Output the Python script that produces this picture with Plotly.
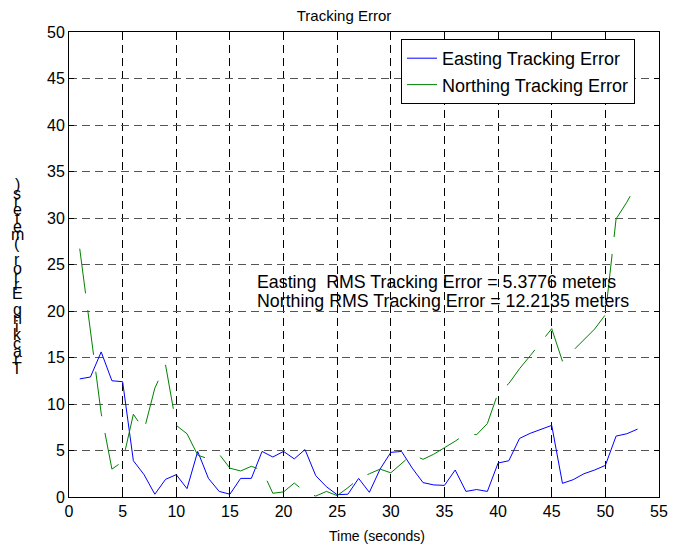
import plotly.graph_objects as go

# ---- data ----
time_s = list(range(1, 54))
easting_err = [12.7, 12.9, 15.6, 12.5, 12.4, 3.9, 2.4, 0.3, 1.9, 2.4,
               0.9, 4.9, 2.0, 0.6, 0.3, 2.0, 2.0, 4.9, 4.3, 4.9,
               4.1, 5.1, 2.3, 1.1, 0.25, 0.3, 2.0, 0.5, 3.0, 4.8,
               4.9, 3.1, 1.55, 1.3, 1.25, 2.9, 0.6, 0.8, 0.6, 3.65,
               3.9, 6.3, 6.85, 7.3, 7.7, 1.47, 1.86, 2.5, 2.9, 3.4,
               6.55, 6.8, 7.3]
northing_err = [26.7, 18.0, 9.0, 3.0, 3.8, 8.9, 7.2, 11.7, 14.2, 7.7,
                6.8, 4.5, 4.1, 4.6, 3.1, 2.8, 3.3, 2.9, 0.4, 0.55,
                1.5, 0.55, 0.1, 0.6, 0.15, 1.0, 1.95, 2.5, 3.0, 2.6,
                3.6, 4.6, 4.05, 4.6, 5.3, 6.0, 6.8, 6.7, 7.9, 11.2,
                12.2, 13.8, 15.2, 16.6, 18.1, 14.6, 15.75, 16.9, 18.06, 19.6,
                29.9, 31.7, 33.8]
x_ticks = list(range(0, 56, 5))
y_ticks = list(range(0, 51, 5))
title_text = "Tracking Error"
x_label = "Time (seconds)"
y_label = "Tracking Error (meters)"
rms_lines = ["Easting\u00a0 RMS Tracking Error = 5.3776 meters",
             "Northing RMS Tracking Error = 12.2135 meters"]

FONT = "Liberation Sans, Arial, sans-serif"

# plot area in page pixels (page has 8px body margin)
PL, PR, PT, PB = 69, 659, 32, 497
PW, PH = PR - PL, PB - PT

fig = go.Figure()
fig.add_trace(go.Scatter(x=time_s, y=easting_err, mode="lines",
                         name="Easting Tracking Error",
                         line=dict(color="#0000FF", width=1)))
fig.add_trace(go.Scatter(x=time_s, y=northing_err, mode="lines",
                         name="Northing Tracking Error",
                         line=dict(color="#008000", width=1, dash="45px,17px")))

axis_common = dict(showline=True, linecolor="black", linewidth=1, mirror="ticks",
                   ticks="inside", ticklen=5, tickcolor="black", zeroline=False,
                   showgrid=True, gridwidth=1,
                   tickfont=dict(family=FONT, size=16, color="black"))

fig.update_xaxes(range=[0, 55], tickvals=x_ticks, ticktext=[str(v) for v in x_ticks],
                 gridcolor="black", griddash="8px,5px", **axis_common)
fig.update_yaxes(range=[0, 50], tickvals=y_ticks, ticktext=[str(v) for v in y_ticks],
                 gridcolor="#555555", griddash="8px,5px", **axis_common)

annotations = []
# stacked y-axis label, bottom to top
n = len(y_label)
for i, ch in enumerate(y_label):
    if ch == " ":
        continue
    y_px = 368 - i * (368 - 185) / (n - 1)
    annotations.append(dict(text=ch, xref="paper", yref="paper",
                            x=(17 - PL) / PW, y=(PB - y_px) / PH,
                            xanchor="center", yanchor="middle", showarrow=False,
                            font=dict(family=FONT, size=16, color="black")))
for j, line in enumerate(rms_lines):
    annotations.append(dict(text=line, xref="x", yref="y", x=17.3, y=23.1 - 2.0 * j,
                            xanchor="left", yanchor="middle", showarrow=False,
                            font=dict(family=FONT, size=17.8, color="black")))
# x-axis label
annotations.append(dict(text=x_label, xref="paper", yref="paper",
                        x=(377 - PL) / PW, y=-(536 - PB) / PH,
                        xanchor="center", yanchor="middle", showarrow=False,
                        font=dict(family=FONT, size=14, color="black")))

fig.update_layout(
    width=679, height=551,
    margin=dict(l=PL - 8, r=679 - (PR - 8), t=PT - 8, b=551 - (PB - 8)),
    paper_bgcolor="white", plot_bgcolor="white",
    title=dict(text=title_text, x=(344 - PL) / PW, xref="paper", y=1 - 2 / 551,
               yanchor="top", xanchor="center", pad=dict(t=0, b=0),
               font=dict(family=FONT, size=15, color="black")),
    legend=dict(x=(401 - PL) / PW, y=(PB - 39) / PH, xanchor="left", yanchor="top",
                bgcolor="white", bordercolor="black", borderwidth=1,
                font=dict(family=FONT, size=18, color="black"),
                tracegroupgap=0),
    showlegend=True,
    annotations=annotations,
)

fig.write_html("out.html")
